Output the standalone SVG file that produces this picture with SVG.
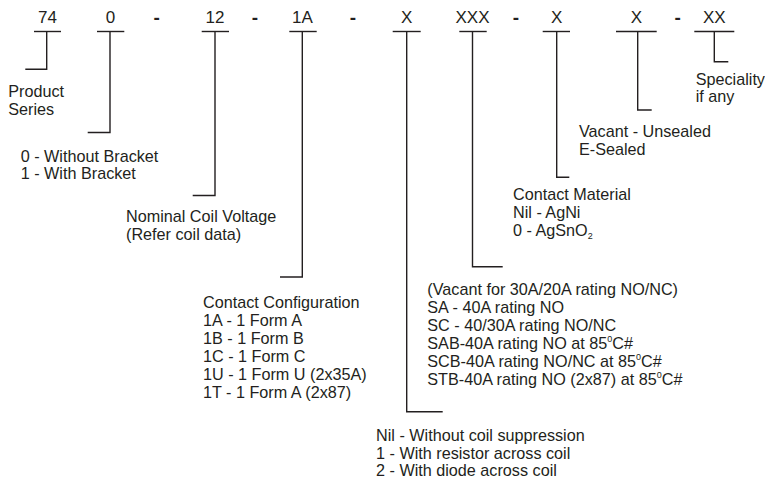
<svg xmlns="http://www.w3.org/2000/svg" width="765" height="486" viewBox="0 0 765 486">
<style>
  .code { font-family: "Liberation Sans", Arial, sans-serif; font-size: 17px; fill: #231f20; text-anchor: middle; }
  .dash { font-weight: bold; font-size: 19px; }
  .txt { font-family: "Liberation Sans", Arial, sans-serif; font-size: 16.2px; fill: #231f20; }
  .ul { stroke: #231f20; stroke-width: 1.4; fill: none; }
  .conn { stroke: #231f20; stroke-width: 1.4; fill: none; }
  .sup { font-size: 9px; }
</style>
<rect width="765" height="486" fill="#ffffff"/>

<g id="code">
  <g id="c74"><text class="code" x="47.5" y="23">74</text><line class="ul" x1="34" y1="31.5" x2="61" y2="31.5"/></g>
  <g id="c0"><text class="code" x="110.5" y="23">0</text><line class="ul" x1="97" y1="31.5" x2="124.3" y2="31.5"/></g>
  <text class="code dash" x="156.7" y="24">-</text>
  <g id="c12"><text class="code" x="215" y="23">12</text><line class="ul" x1="201.7" y1="31.5" x2="229" y2="31.5"/></g>
  <text class="code dash" x="255" y="24">-</text>
  <g id="c1A"><text class="code" x="302.5" y="23">1A</text><line class="ul" x1="289.3" y1="31.5" x2="316.7" y2="31.5"/></g>
  <text class="code dash" x="353" y="24">-</text>
  <g id="cX1"><text class="code" x="406.7" y="23">X</text><line class="ul" x1="392.7" y1="31.5" x2="420.7" y2="31.5"/></g>
  <g id="cXXX"><text class="code" x="472.5" y="23">XXX</text><line class="ul" x1="459.3" y1="31.5" x2="486.7" y2="31.5"/></g>
  <text class="code dash" x="516" y="24">-</text>
  <g id="cX2"><text class="code" x="556.7" y="23">X</text><line class="ul" x1="542.7" y1="31.5" x2="570" y2="31.5"/></g>
  <g id="cX3"><text class="code" x="636.5" y="23">X</text><line class="ul" x1="616" y1="31.5" x2="656.7" y2="31.5"/></g>
  <text class="code dash" x="677.7" y="24">-</text>
  <g id="cXX"><text class="code" x="714.3" y="23">XX</text><line class="ul" x1="694.3" y1="31.5" x2="734.3" y2="31.5"/></g>
</g>

<g id="connectors">
  <path class="conn" d="M46.7 31.5 V69.3 H25.3"/>
  <path class="conn" d="M110 31.5 V132.5 H87.7"/>
  <path class="conn" d="M215 31.5 V195.5 H192.7"/>
  <path class="conn" d="M302.3 31.5 V277 H280"/>
  <path class="conn" d="M406.7 31.5 V411.7 H442.7"/>
  <path class="conn" d="M472.5 31.5 V266.7 H502.7"/>
  <path class="conn" d="M556.7 31.5 V177.3 H569.3"/>
  <path class="conn" d="M637.7 31.5 V110 H651.7"/>
  <path class="conn" d="M714.3 31.5 V61.7 H728.3"/>
</g>

<g id="product-series">
  <text class="txt" x="8.3" y="97.3">Product</text>
  <text class="txt" x="8.3" y="115">Series</text>
</g>

<g id="bracket">
  <text class="txt" x="20.7" y="161.7">0 - Without Bracket</text>
  <text class="txt" x="20.7" y="179.3">1 - With Bracket</text>
</g>

<g id="coil-voltage">
  <text class="txt" x="126" y="221.7">Nominal Coil Voltage</text>
  <text class="txt" x="126" y="239.5">(Refer coil data)</text>
</g>

<g id="contact-configuration">
  <text class="txt" x="203" y="307.5">Contact Configuration</text>
  <text class="txt" x="203" y="325.5">1A - 1 Form A</text>
  <text class="txt" x="203" y="343.5">1B - 1 Form B</text>
  <text class="txt" x="203" y="361.5">1C - 1 Form C</text>
  <text class="txt" x="203" y="379.5">1U - 1 Form U (2x35A)</text>
  <text class="txt" x="203" y="397.5">1T - 1 Form A (2x87)</text>
</g>

<g id="coil-suppression">
  <text class="txt" x="376" y="440.7">Nil - Without coil suppression</text>
  <text class="txt" x="376" y="458.5">1 - With resistor across coil</text>
  <text class="txt" x="376" y="476.3">2 - With diode across coil</text>
</g>

<g id="rating">
  <text class="txt" x="427.3" y="295">(Vacant for 30A/20A rating NO/NC)</text>
  <text class="txt" x="427.3" y="313">SA - 40A rating NO</text>
  <text class="txt" x="427.3" y="331">SC - 40/30A rating NO/NC</text>
  <text class="txt" x="427.3" y="349">SAB-40A rating NO at 85<tspan class="sup" dy="-7">0</tspan><tspan dy="7">C#</tspan></text>
  <text class="txt" x="427.3" y="367">SCB-40A rating NO/NC at 85<tspan class="sup" dy="-7">0</tspan><tspan dy="7">C#</tspan></text>
  <text class="txt" x="427.3" y="385">STB-40A rating NO (2x87) at 85<tspan class="sup" dy="-7">0</tspan><tspan dy="7">C#</tspan></text>
</g>

<g id="contact-material">
  <text class="txt" x="513" y="200">Contact Material</text>
  <text class="txt" x="513" y="218">Nil - AgNi</text>
  <text class="txt" x="513" y="236">0 - AgSnO<tspan class="sup" dy="3">2</tspan></text>
</g>

<g id="sealing">
  <text class="txt" x="579" y="136.7">Vacant - Unsealed</text>
  <text class="txt" x="579" y="154.5">E-Sealed</text>
</g>

<g id="speciality">
  <text class="txt" x="695.7" y="84.5">Speciality</text>
  <text class="txt" x="695.7" y="102">if any</text>
</g>
</svg>
